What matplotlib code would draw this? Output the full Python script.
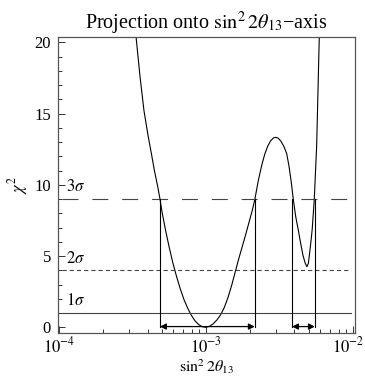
import numpy as np
import matplotlib
matplotlib.use("Agg")
import matplotlib.pyplot as plt
import matplotlib.transforms as mtransforms
from matplotlib.ticker import LogLocator, MultipleLocator, NullFormatter

plt.rcParams['font.family'] = ['Liberation Serif', 'DejaVu Serif']
plt.rcParams['mathtext.fontset'] = 'stix'
plt.rcParams['lines.scale_dashes'] = False

# chi^2 curve (log10 of sin^2 2theta13, chi^2)
curve_logx = [-3.50, -3.476, -3.45, -3.422, -3.395, -3.37, -3.35, -3.329,
              -3.313, -3.30, -3.275, -3.25, -3.225, -3.20, -3.175, -3.15,
              -3.125, -3.10, -3.075, -3.05, -3.025, -3.002, -2.975, -2.95,
              -2.925, -2.90, -2.875, -2.85, -2.825, -2.803, -2.78, -2.755,
              -2.73, -2.705, -2.685, -2.667, -2.644, -2.62, -2.60, -2.58,
              -2.56, -2.54, -2.526, -2.51, -2.49, -2.47, -2.451, -2.435,
              -2.42, -2.406, -2.39, -2.372, -2.355, -2.34, -2.325, -2.313,
              -2.303, -2.295, -2.285, -2.277, -2.263, -2.247, -2.229, -2.222]
curve_chi2 = [22.5, 20.4, 17.7, 15.2, 13.5, 12.1, 10.95, 9.9,
              9.0, 8.15, 6.8, 5.6, 4.5, 3.55, 2.7, 1.95,
              1.35, 0.85, 0.46, 0.19, 0.04, 0.0, 0.07, 0.25,
              0.52, 0.88, 1.4, 2.1, 2.95, 3.8, 4.7, 5.6,
              6.5, 7.45, 8.2, 9.0, 10.3, 11.4, 12.15, 12.71,
              13.09, 13.29, 13.33, 13.28, 13.06, 12.69, 12.2, 11.3,
              10.2, 9.0, 7.8, 6.83, 5.85, 5.05, 4.5, 4.25,
              4.5, 5.2, 6.1, 6.9, 9.0, 12.7, 20.4, 23.0]

levels = [1, 4, 9]
level_labels = [r'$1\sigma$', r'$2\sigma$', r'$3\sigma$']
level_styles = ['solid', 'dotted', 'dashed']

# 3 sigma allowed intervals
intervals = [(4.86e-4, 2.15e-3), (3.85e-3, 5.51e-3)]

fig = plt.figure(figsize=(3.65, 3.79), dpi=100)
ax = fig.add_axes([58 / 365, 46.3 / 379, 297 / 365, 295.7 / 379])

x = 10 ** np.array(curve_logx)
ax.plot(x, curve_chi2, color='black', lw=0.8)

x0, x1 = 10 ** -3.98, 10 ** -2.014
dash_map = {'solid': '-', 'dotted': (0, (3.0, 2.2)), 'dashed': (0, (11.5, 10.0))}
for lvl, lab, st in zip(levels, level_labels, level_styles):
    ax.plot([x0, x1], [lvl, lvl], color='#444444', lw=0.8, linestyle=dash_map[st])
    ax.text(10 ** -3.955, lvl + 0.25, lab, fontsize=12, ha='left', va='bottom')

y_arrow = 0.05
for a, b in intervals:
    ax.plot([a, a], [y_arrow, 9], color='black', lw=0.8)
    ax.plot([b, b], [y_arrow, 9], color='black', lw=0.8)
    ax.annotate('', xy=(a, y_arrow), xytext=(b, y_arrow),
                arrowprops=dict(arrowstyle='<|-|>', color='black', lw=0.9,
                                mutation_scale=9, shrinkA=0, shrinkB=0))

ax.set_xscale('log')
ax.set_xlim(10 ** -4.007, 10 ** -1.986)
ax.set_ylim(-0.38, 20.37)

ax.set_xticks([1e-4, 1e-3, 1e-2])
ax.set_xticklabels([r'$10^{-4}$', r'$10^{-3}$', r'$10^{-2}$'])
ax.xaxis.set_minor_locator(LogLocator(base=10, subs=np.arange(2, 10)))
ax.xaxis.set_minor_formatter(NullFormatter())
ax.set_yticks([0, 5, 10, 15, 20])
ax.yaxis.set_minor_locator(MultipleLocator(1))

ax.tick_params(which='both', direction='in', top=False, right=False,
               labelsize=12, width=0.7, color='#333333')
ax.tick_params(which='major', length=5, pad=5)
ax.tick_params(axis='x', which='major', pad=3)
ax.tick_params(which='minor', length=3)
for s in ax.spines.values():
    s.set_color('#555555')
    s.set_linewidth(0.9)

# nudge the right-most tick label so it stays on the canvas
last = ax.get_xticklabels()[-1]
last.set_transform(last.get_transform() +
                   mtransforms.ScaledTranslation(-5 / 100, 0, fig.dpi_scale_trans))

ax.set_title(r'Projection onto $\sin^2 2\theta_{13}$' + '\u2212axis', fontsize=14.5, pad=5)
ax.set_xlabel(r'$\sin^2 2\theta_{13}$', fontsize=11.5, labelpad=0)
ax.set_ylabel(r'$\chi^2$', fontsize=12, labelpad=3)

fig.savefig('out.png', dpi=100)
